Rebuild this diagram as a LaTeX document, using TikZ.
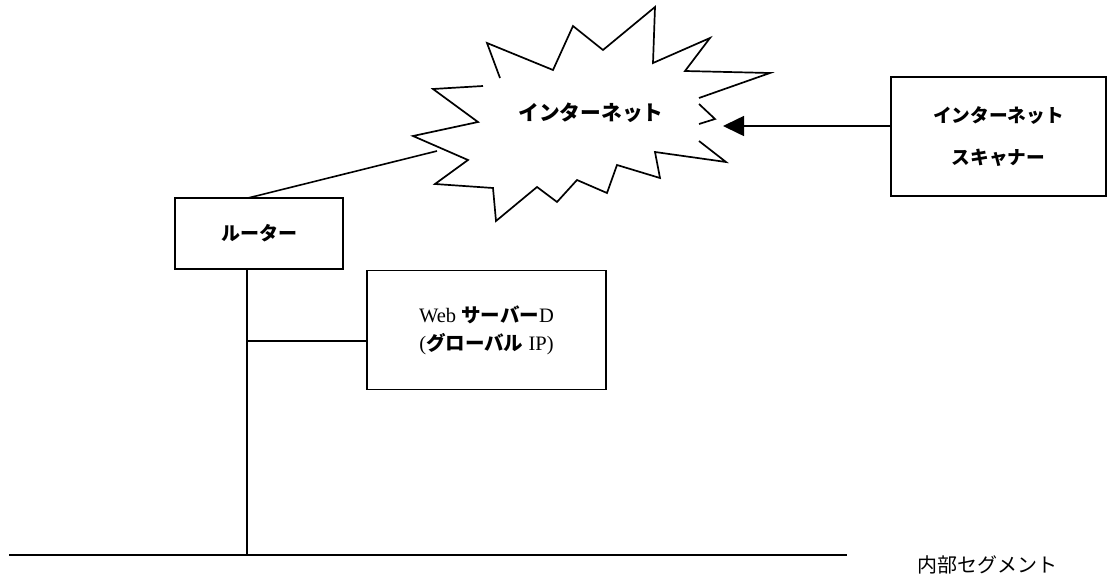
\documentclass[tikz,border=0pt]{standalone}
\usepackage{fontspec}
\setmainfont{Liberation Serif}
\newfontfamily\jp{Noto Sans CJK JP}
\usetikzlibrary{arrows.meta}
\begin{document}
\begin{tikzpicture}[x=1pt,y=-1pt,line width=1.6pt,
  box/.style={draw,line width=1.6pt,inner sep=0pt},
  burst/.style={line width=1.7pt,line join=miter,miter limit=6}]
\useasboundingbox (0,0) rectangle (1111,578);
% boxes
\node[box,minimum width=168pt,minimum height=71pt,font=\jp\bfseries\fontsize{19}{22}\selectfont] (router) at (259,233.5) {ルーター};
\node[box,minimum width=239pt,minimum height=119pt,align=center,font=\fontsize{20.5}{28}\selectfont] (web) at (486.5,330)
  {Web {\jp\bfseries\fontsize{19.5}{28}\selectfont サーバー}D\\({\jp\bfseries\fontsize{19.5}{28}\selectfont グローバル} IP)};
\node[box,minimum width=215pt,minimum height=119pt,align=center,font=\jp\bfseries\fontsize{18.7}{42}\selectfont] (scan) at (998.5,136.5)
  {インターネット\\スキャナー};
\node[font=\jp\bfseries\fontsize{20.7}{24}\selectfont] (net) at (591,113) {インターネット};
\node[font=\jp\fontsize{20}{24}\selectfont] (seg) at (987,565) {内部セグメント};
% starburst outline
\draw[burst] (500,78) -- (487,43) -- (553,70) -- (573,26) -- (603,50) -- (655,7) -- (653,63)
  -- (710,38) -- (685,71) -- (770,73) -- (699,98);
\draw[burst] (699,104) -- (715,119) -- (699,124);
\draw[burst] (699,141) -- (726,162) -- (655,152) -- (660,178) -- (617,165) -- (607,193)
  -- (577,180) -- (557,202) -- (537,187) -- (496,221) -- (493,188) -- (435,184) -- (468,160)
  -- (413,136) -- (478,122) -- (433,89) -- (483,86);
% connection points
\coordinate (rtop) at (248,198);
\coordinate (netL) at (437,151);
\coordinate (rbot) at (247,269);
\coordinate (tap) at (247,341);
\coordinate (bus) at (247,555);
\coordinate (segL) at (9,555);
\coordinate (segR) at (847,555);
\coordinate (tip) at (723,126);
% connectors
\draw (rtop) -- (netL);
\draw (rbot) -- (bus);
\draw (tap) -- (tap -| web.west);
\draw[line width=2.4pt] (segL) -- (segR);
\draw[-{Triangle[length=21pt,width=20pt]}] (tip -| scan.west) -- (tip);
\end{tikzpicture}
\end{document}
